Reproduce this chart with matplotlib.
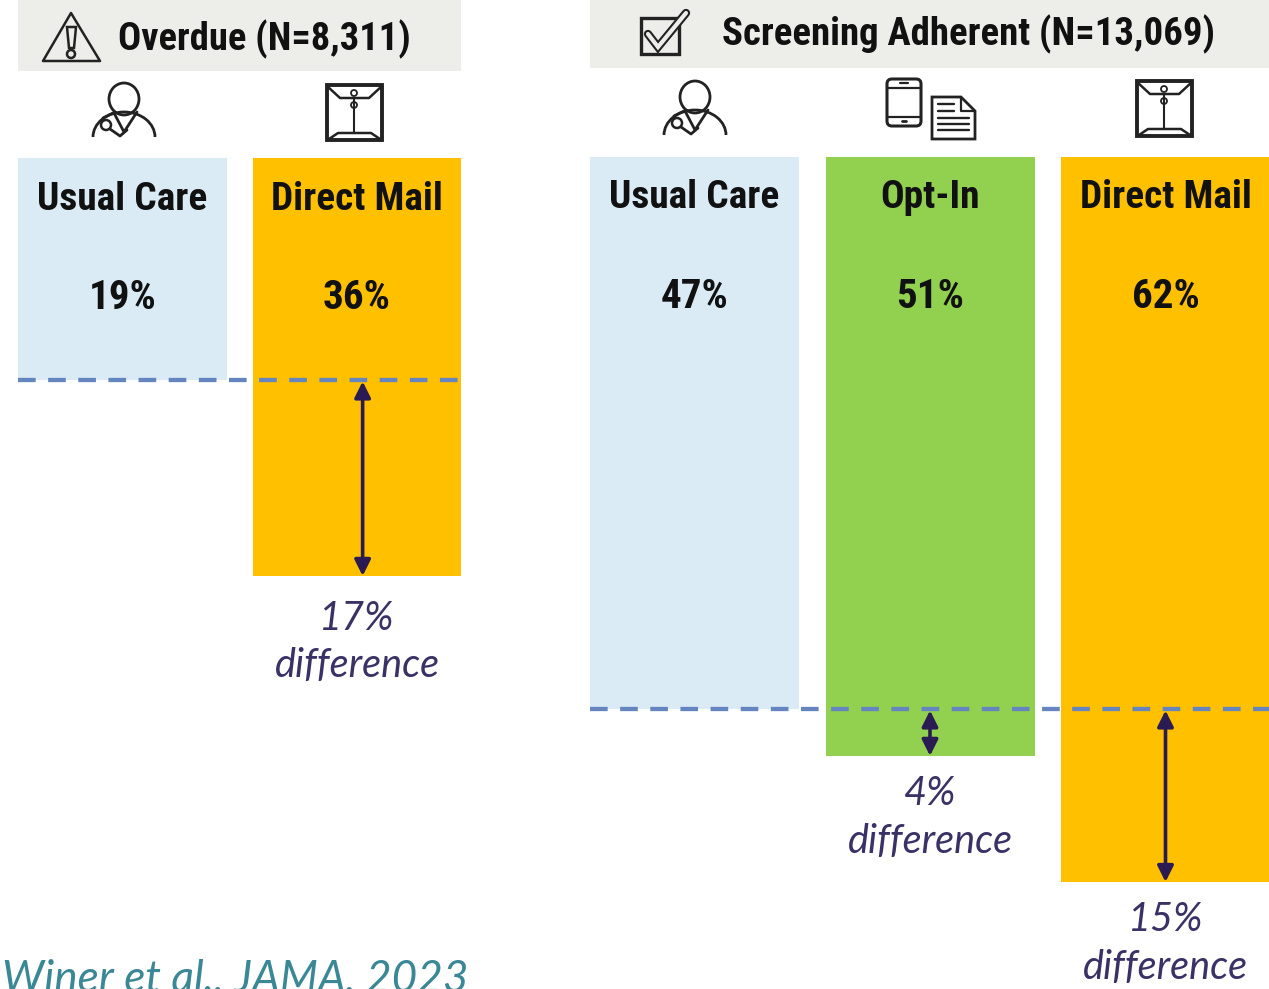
import matplotlib
matplotlib.use("Agg")
import matplotlib.pyplot as plt
from matplotlib.patches import Rectangle, Circle, Ellipse, Polygon, Arc, FancyBboxPatch

W, H = 1269, 989

# data (bar lengths, labels as printed)
left_title = "Overdue (N=8,311)"
left_groups = ["Usual Care", "Direct Mail"]
left_values = [19.14, 36.03]
left_labels = ["19%", "36%"]
left_colors = ["#DAEBF6", "#FFC000"]
left_diffs = [None, "17%\ndifference"]

right_title = "Screening Adherent (N=13,069)"
right_groups = ["Usual Care", "Opt-In", "Direct Mail"]
right_values = [47.1, 51.1, 61.86]
right_labels = ["47%", "51%", "62%"]
right_colors = ["#DAEBF6", "#92D050", "#FFC000"]
right_diffs = [None, "4%\ndifference", "15%\ndifference"]

source = "Winer et al., JAMA, 2023"

NARROW = "Roboto Condensed"
DARK = "#2A1B52"
ICON = "#222222"

fig = plt.figure(figsize=(W / 100, H / 100), dpi=100, facecolor="white")


def px_axes(x0, y0, x1, y1):
    return fig.add_axes([x0 / W, 1 - y1 / H, (x1 - x0) / W, (y1 - y0) / H])


def panel(x0, x1, y0, scale, pitch, groups, values, labels, colors, diffs, arrow_dx, diff_off):
    ax = px_axes(x0, y0, x1, H)
    half = 104.5 / pitch
    ax.set_xlim(-half, (x1 - x0) / pitch - half)
    ax.set_ylim((H - y0) / scale, 0)
    ax.axis("off")
    ax.bar(range(len(groups)), values, width=2 * half, color=colors, align="center")
    base = values[0]
    ax.axhline(base, color="#6485C0", lw=3.1, dashes=(4.1, 2.9), zorder=3, dash_capstyle="butt")
    for i, name in enumerate(groups):
        ax.text(i, 41 / scale, name, ha="center", va="center", fontsize=28.4,
                fontweight="bold", family=NARROW, color="#111111")
        ax.text(i, 140 / scale, labels[i], ha="center", va="center", fontsize=29.5,
                fontweight="bold", family=NARROW, color="#111111")
        if diffs[i] is None:
            continue
        ax.annotate("", xy=(i + arrow_dx, values[i]), xytext=(i + arrow_dx, base),
                    arrowprops=dict(arrowstyle="<|-|>", color=DARK, lw=2.6, mutation_scale=24,
                                    shrinkA=1, shrinkB=0), zorder=4)
        ax.annotate(diffs[i], xy=(i, values[i]), xytext=(0, diff_off), textcoords="offset points",
                    ha="center", va="top", fontsize=28.5, style="italic", family="Lato",
                    color="#3A3166", linespacing=1.36, annotation_clip=False)
    return ax


panel(18, 461, 158, 11.6, 234.5, left_groups, left_values, left_labels, left_colors, left_diffs, 0.024, -17)
panel(590, 1269, 157, 11.72, 235.5, right_groups, right_values, right_labels, right_colors, right_diffs, 0, -14)

# overlay in pixel coordinates for headers and pictograms
ov = fig.add_axes([0, 0, 1, 1], zorder=5)
ov.set_xlim(0, W)
ov.set_ylim(H, 0)
ov.axis("off")
ov.patch.set_alpha(0)

ov.add_patch(Rectangle((18, 0), 443, 71, fc="#EDEEEA", ec="none"))
ov.add_patch(Rectangle((590, 0), 679, 68, fc="#EDEEEA", ec="none"))
ov.text(118, 39, left_title, ha="left", va="center", fontsize=27.7, fontweight="bold",
        family=NARROW, color="#111111")
ov.text(722, 34, right_title, ha="left", va="center", fontsize=27.9, fontweight="bold",
        family=NARROW, color="#111111")
ov.text(2, 992, source, ha="left", va="baseline", fontsize=31.8, style="italic", family="Lato",
        color="#3A8795")


def line(xs, ys, lw=2.0, color=ICON):
    ov.plot(xs, ys, color=color, lw=lw, solid_capstyle="round", solid_joinstyle="round")


def doctor(dx, dy):
    ov.add_patch(Ellipse((124 + dx, 99 + dy), 30, 32, fc="none", ec=ICON, lw=2))
    ov.add_patch(Arc((124 + dx, 137 + dy), 62, 50, theta1=180, theta2=360, ec=ICON, lw=2))
    line([114 + dx, 124 + dx, 137 + dx], [113 + dy, 132 + dy, 112 + dy])
    line([113 + dx, 103 + dx], [113 + dy, 118 + dy])
    ov.add_patch(Circle((106 + dx, 125 + dy), 5, fc="white", ec=ICON, lw=1.8))
    line([110 + dx, 120 + dx, 127 + dx], [129 + dy, 136 + dy, 130 + dy])


def envelope(dx, dy):
    ov.add_patch(Rectangle((327 + dx, 85 + dy), 55, 55, fc="white", ec=ICON, lw=2.8))
    line([327 + dx, 340 + dx, 369 + dx, 382 + dx], [86 + dy, 98 + dy, 98 + dy, 86 + dy], lw=1.8)
    line([329 + dx, 338 + dx, 371 + dx, 380 + dx], [139 + dy, 133 + dy, 133 + dy, 139 + dy], lw=1.8)
    line([354 + dx, 354 + dx], [98 + dy, 133 + dy], lw=1.5)
    ov.add_patch(Circle((354 + dx, 93 + dy), 3, fc="white", ec=ICON, lw=1.3))
    ov.add_patch(Circle((354 + dx, 105 + dy), 3, fc="white", ec=ICON, lw=1.3))


doctor(0, 0)
doctor(571, -2)
envelope(0, 0)
envelope(810, -4)

# warning sign
ov.add_patch(Polygon([(71, 13), (43, 61), (100, 61)], closed=True, fc="none", ec=ICON, lw=1.8,
                     joinstyle="round"))
ov.add_patch(Polygon([(67, 27), (76, 27), (74, 48), (69, 48)], closed=True, fc="none", ec=ICON, lw=1.8))
ov.add_patch(Circle((71, 54), 4, fc="none", ec=ICON, lw=1.8))

# checkbox
ov.add_patch(Rectangle((641, 18), 38, 36, fc="none", ec=ICON, lw=2.4))
ov.plot([648, 658, 686], [34, 47, 13], color=ICON, lw=6, solid_joinstyle="miter", solid_capstyle="round")
ov.plot([648, 658, 686], [34, 47, 13], color="#EDEEEA", lw=3, solid_joinstyle="miter", solid_capstyle="round")

# phone
ov.add_patch(FancyBboxPatch((887, 79), 34, 47, boxstyle="round,pad=0,rounding_size=5", fc="none",
                            ec=ICON, lw=2.2))
line([887, 921], [88, 88], lw=1.6)
line([887, 921], [117, 117], lw=1.6)
line([900, 908], [83, 83], lw=1.6)
line([902, 906], [121, 121], lw=2)

# document
ov.add_patch(Polygon([(932, 97), (961, 97), (975, 111), (975, 139), (932, 139)], closed=True,
                     fc="white", ec=ICON, lw=2))
line([961, 961, 975], [97, 111, 111], lw=1.6)
for y, x_end in zip([104, 111, 118, 124, 130], [954, 954, 969, 969, 969]):
    line([938, x_end], [y, y], lw=1.7)

fig.savefig("out.png", dpi=100)
